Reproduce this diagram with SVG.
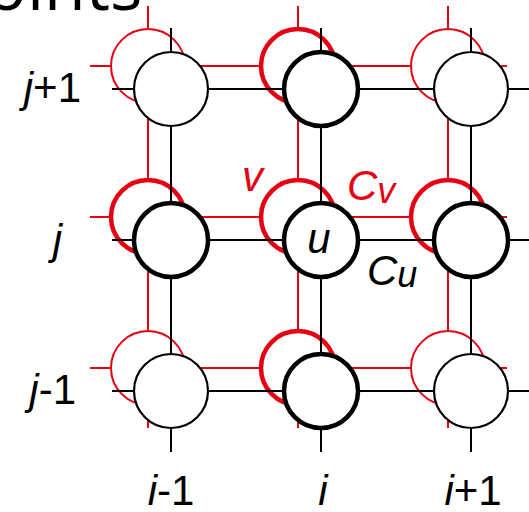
<svg xmlns="http://www.w3.org/2000/svg" width="529" height="512" viewBox="0 0 529 512">
<style>
.rl{stroke:#e60012;stroke-width:2;fill:none}
.bl{stroke:#000;stroke-width:2;fill:none}
.rc{stroke:#e60012;stroke-width:2;fill:#fff}
.rc.t{stroke-width:4.5}
.bc{stroke:#000;stroke-width:2.2;fill:#fff}
.bc.t{stroke-width:4.5}
.lab{font-family:"Liberation Sans",Arial,sans-serif;font-size:42px;fill:#000}
.it{font-style:italic}
.red{fill:#e60012}
</style>
<rect width="529" height="512" fill="#fff"/>
<text x="-14" y="10" font-family="Open Sans, sans-serif" font-size="68" fill="#000">oints</text>
<g id="connectors">
<g id="red-lines">
<line class="rl" x1="90" y1="66" x2="507" y2="66"/>
<line class="rl" x1="90" y1="217" x2="507" y2="217"/>
<line class="rl" x1="90" y1="368" x2="507" y2="368"/>
<line class="rl" x1="148" y1="6" x2="148" y2="428"/>
<line class="rl" x1="298" y1="6" x2="298" y2="428"/>
<line class="rl" x1="448" y1="6" x2="448" y2="428"/>
</g>
</g>
<g id="red-nodes">
<circle id="v-im1-jp1" class="rc" cx="148" cy="66" r="37"/>
<circle id="v-i-jp1" class="rc t" cx="298" cy="66" r="37"/>
<circle id="v-ip1-jp1" class="rc" cx="448" cy="66" r="37"/>
<circle id="v-im1-j" class="rc t" cx="148" cy="217" r="37"/>
<circle id="v-i-j" class="rc t" cx="298" cy="217" r="37"/>
<circle id="v-ip1-j" class="rc t" cx="448" cy="217" r="37"/>
<circle id="v-im1-jm1" class="rc" cx="148" cy="368" r="37"/>
<circle id="v-i-jm1" class="rc t" cx="298" cy="368" r="37"/>
<circle id="v-ip1-jm1" class="rc" cx="448" cy="368" r="37"/>
</g>
<g id="black-lines">
<line class="bl" x1="112" y1="89" x2="530" y2="89"/>
<line class="bl" x1="112" y1="240" x2="530" y2="240"/>
<line class="bl" x1="112" y1="391" x2="530" y2="391"/>
<line class="bl" x1="171" y1="28" x2="171" y2="452"/>
<line class="bl" x1="321" y1="28" x2="321" y2="452"/>
<line class="bl" x1="471" y1="28" x2="471" y2="452"/>
</g>
<g id="black-nodes">
<circle id="u-im1-jp1" class="bc" cx="171" cy="89" r="37"/>
<circle id="u-i-jp1" class="bc t" cx="321" cy="89" r="37"/>
<circle id="u-ip1-jp1" class="bc" cx="471" cy="89" r="37"/>
<circle id="u-im1-j" class="bc t" cx="171" cy="240" r="37"/>
<g id="u-i-j">
<circle class="bc t" cx="321" cy="240" r="37"/>
<text class="lab it" x="319" y="253" text-anchor="middle" font-size="42">u</text>
</g>
<circle id="u-ip1-j" class="bc t" cx="471" cy="240" r="37"/>
<circle id="u-im1-jm1" class="bc" cx="171" cy="391" r="37"/>
<circle id="u-i-jm1" class="bc t" cx="321" cy="391" r="37"/>
<circle id="u-ip1-jm1" class="bc" cx="471" cy="391" r="37"/>
</g>
<g id="labels">
<text class="lab" x="81" y="102" text-anchor="end"><tspan class="it">j</tspan>+1</text>
<text class="lab it" x="62" y="254" text-anchor="end">j</text>
<text class="lab" x="76" y="404" text-anchor="end"><tspan class="it">j</tspan>-1</text>
<text class="lab" x="171" y="505" text-anchor="middle"><tspan class="it">i</tspan>-1</text>
<text class="lab it" x="323" y="505" text-anchor="middle">i</text>
<text class="lab" x="473" y="505" text-anchor="middle"><tspan class="it">i</tspan>+1</text>
<text class="lab it red" x="242" y="191">v</text>
<text class="lab it red" x="347" y="200" font-size="44">C<tspan font-size="36" dy="3">v</tspan></text>
<text class="lab it" x="367" y="285">C<tspan font-size="36" dy="2">u</tspan></text>
</g>
</svg>
